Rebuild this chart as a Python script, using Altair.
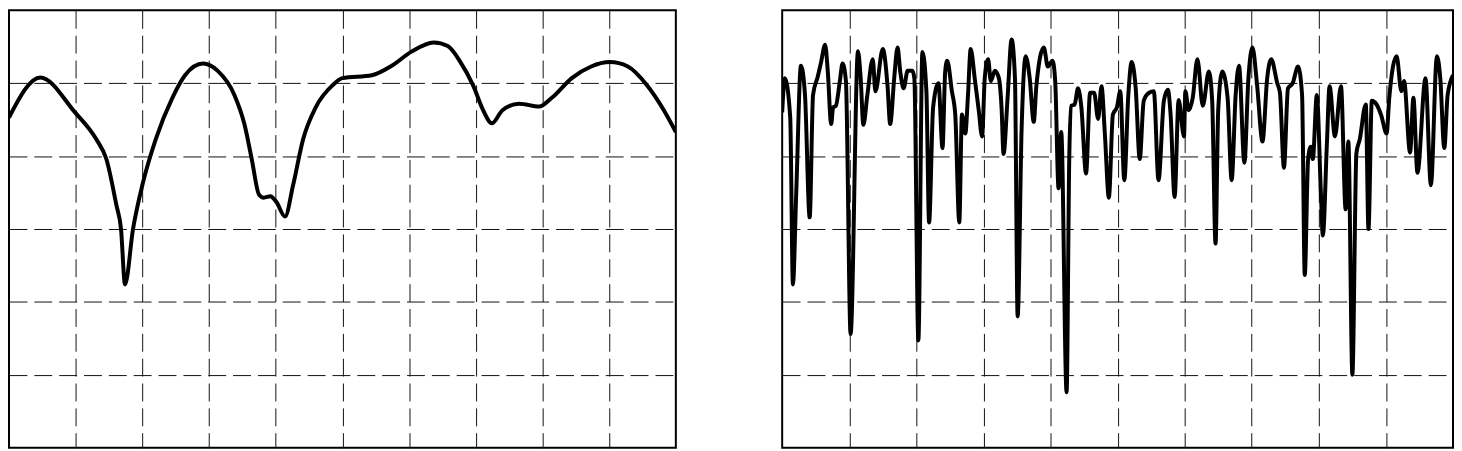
import altair as alt
import pandas as pd

# Left panel: smooth response curve (x in grid units 0-10, y in grid units 0-6)
left_x = [0.00, 0.47, 0.99, 1.31, 1.46, 1.61, 1.68, 1.74, 1.86, 2.01, 2.20, 2.45, 2.64,
          2.91, 3.13, 3.38, 3.53, 3.64, 3.75, 3.82, 3.92, 4.01, 4.14, 4.26, 4.41, 4.60,
          4.85, 5.00, 5.44, 5.74, 6.03, 6.37, 6.58, 6.77, 6.96, 7.11, 7.24, 7.40, 7.65,
          7.95, 8.14, 8.44, 8.73, 9.01, 9.28, 9.57, 9.82, 10.00]
left_y = [4.53, 5.08, 4.60, 4.23, 3.96, 3.33, 3.00, 2.24, 3.00, 3.64, 4.23, 4.80, 5.11,
          5.27, 5.17, 4.84, 4.44, 3.96, 3.47, 3.43, 3.45, 3.37, 3.17, 3.60, 4.23, 4.67,
          4.97, 5.07, 5.11, 5.24, 5.43, 5.56, 5.51, 5.29, 4.97, 4.63, 4.45, 4.63, 4.72,
          4.68, 4.80, 5.07, 5.23, 5.29, 5.23, 4.97, 4.63, 4.33]

# Right panel: dense oscillating curve
right_x = [0.00, 0.04, 0.12, 0.16, 0.21, 0.28, 0.34, 0.41, 0.46, 0.53, 0.58, 0.64, 0.68,
           0.73, 0.76, 0.80, 0.86, 0.90, 0.95, 1.02, 1.13, 1.17, 1.21, 1.27, 1.35, 1.39,
           1.50, 1.57, 1.61, 1.67, 1.72, 1.76, 1.81, 1.87, 1.94, 1.97, 2.03, 2.09, 2.15,
           2.19, 2.25, 2.33, 2.39, 2.43, 2.46, 2.53, 2.58, 2.64, 2.68, 2.73, 2.77, 2.81,
           2.87, 2.93, 2.98, 3.02, 3.07, 3.11, 3.17, 3.23, 3.27, 3.30, 3.36, 3.42, 3.47,
           3.51, 3.57, 3.63, 3.69, 3.75, 3.79, 3.90, 3.96, 4.03, 4.07, 4.12, 4.16, 4.24,
           4.28, 4.31, 4.36, 4.41, 4.46, 4.53, 4.59, 4.65, 4.71, 4.76, 4.81, 4.87, 4.93,
           4.99, 5.04, 5.10, 5.16, 5.21, 5.27, 5.33, 5.39, 5.47, 5.54, 5.61, 5.69, 5.75,
           5.79, 5.85, 5.91, 5.99, 6.01, 6.06, 6.12, 6.19, 6.27, 6.36, 6.41, 6.46, 6.50,
           6.56, 6.64, 6.70, 6.76, 6.81, 6.89, 6.95, 7.01, 7.08, 7.16, 7.23, 7.29, 7.38,
           7.42, 7.48, 7.54, 7.61, 7.69, 7.75, 7.79, 7.84, 7.88, 7.91, 7.97, 8.03, 8.06,
           8.12, 8.16, 8.24, 8.33, 8.40, 8.44, 8.50, 8.56, 8.61, 8.70, 8.74, 8.79, 8.86,
           8.93, 9.01, 9.05, 9.16, 9.23, 9.27, 9.36, 9.41, 9.47, 9.59, 9.67, 9.76, 9.81,
           9.87, 9.92, 10.00]
right_y = [4.60, 5.07, 4.53, 2.24, 3.51, 5.24, 4.84, 3.16, 4.84, 5.09, 5.29, 5.53, 5.16,
           4.44, 4.67, 4.69, 5.03, 5.27, 5.03, 1.56, 5.44, 5.07, 4.43, 4.84, 5.33, 4.89,
           5.47, 4.97, 4.44, 5.07, 5.49, 5.16, 4.93, 5.17, 5.17, 5.07, 1.47, 5.43, 4.89,
           3.09, 4.67, 5.00, 4.11, 5.16, 5.31, 4.89, 4.57, 3.09, 4.57, 4.31, 4.84, 5.47,
           5.07, 4.63, 4.27, 5.07, 5.33, 5.03, 5.17, 5.07, 4.67, 4.03, 4.80, 5.60, 5.07,
           1.80, 4.40, 5.37, 5.07, 4.47, 4.97, 5.49, 5.23, 5.31, 5.03, 3.56, 4.33, 0.76,
           4.00, 4.69, 4.71, 4.93, 4.67, 3.76, 4.87, 4.87, 4.51, 4.96, 4.31, 3.43, 4.57,
           4.67, 4.89, 3.67, 4.84, 5.29, 4.93, 3.96, 4.76, 4.87, 4.89, 3.67, 4.76, 4.91,
           4.57, 3.44, 4.77, 4.27, 4.89, 4.63, 4.80, 5.33, 4.69, 5.16, 4.76, 2.80, 4.63,
           5.16, 4.80, 3.67, 4.84, 5.24, 3.91, 5.07, 5.49, 4.97, 4.20, 5.07, 5.33, 5.00,
           4.87, 3.84, 4.93, 5.00, 5.23, 4.84, 2.37, 3.96, 4.13, 3.96, 4.84, 3.51, 2.91,
           4.17, 4.96, 4.27, 4.96, 3.27, 4.20, 1.00, 4.04, 4.23, 4.71, 3.00, 4.76, 4.71,
           4.56, 4.31, 4.80, 5.37, 4.89, 5.03, 4.05, 4.80, 3.77, 5.07, 3.60, 5.37, 5.07,
           4.11, 4.84, 5.11]

x_grid = [1, 2, 3, 4, 5, 6, 7, 8, 9]
y_grid = [1, 2, 3, 4, 5]

dash = [18, 7]
grid_color = "#111111"


def panel(xs, ys, w, h):
    df = pd.DataFrame({"x": xs, "y": ys})
    return alt.Chart(df).mark_line(
        color="black", strokeWidth=4, interpolate="monotone", clip=True
    ).encode(
        x=alt.X("x:Q", scale=alt.Scale(domain=[0, 10], nice=False, zero=False),
                axis=alt.Axis(values=x_grid, grid=True, labels=False, ticks=False,
                              domain=False, title=None, gridDash=dash,
                              gridColor=grid_color, gridWidth=1)),
        y=alt.Y("y:Q", scale=alt.Scale(domain=[0, 6], nice=False, zero=False),
                axis=alt.Axis(values=y_grid, grid=True, labels=False, ticks=False,
                              domain=False, title=None, gridDash=dash,
                              gridColor=grid_color, gridWidth=1)),
    ).properties(width=w, height=h)


left = panel(left_x, left_y, 671, 440)
right = panel(right_x, right_y, 675, 440)

chart = alt.hconcat(left, right, spacing=105).properties(
    padding={"left": 0, "top": 0, "right": 0, "bottom": 0},
    background="white",
).configure_view(
    stroke="black", strokeWidth=2
)

chart.save("out.html", embed_options={"renderer": "svg", "actions": False})
